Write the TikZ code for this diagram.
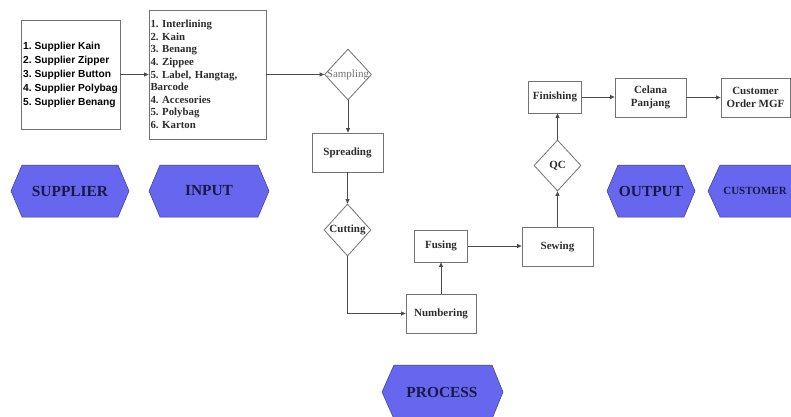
\documentclass[tikz,border=0pt]{standalone}
\usepackage{fontspec}
\setmainfont{Liberation Serif}
\newfontfamily\arialf{Liberation Sans}
\usetikzlibrary{arrows.meta,shapes.geometric}
\frenchspacing
\definecolor{hexblue}{RGB}{102,102,238}
\definecolor{hexline}{RGB}{60,60,150}
\definecolor{hextext}{RGB}{25,25,70}
\definecolor{lnc}{RGB}{75,75,75}
\definecolor{boxc}{RGB}{115,115,115}
\definecolor{txtc}{RGB}{45,45,45}
\begin{document}
\begin{tikzpicture}[x=1pt,y=-1pt,
  box/.style={draw=boxc,line width=0.8pt,fill=white,inner sep=1pt,
    font=\bfseries\fontsize{11}{12.5}\selectfont,text=txtc,align=center},
  dia/.style={draw=boxc,line width=0.8pt,fill=white,diamond,inner sep=0pt},
  dlbl/.style={font=\bfseries\fontsize{11}{12.5}\selectfont,text=txtc,inner sep=0pt},
  hexa/.style={fill=hexblue,draw=hexline,line width=0.5pt},
  hextxt/.style={font=\bfseries\fontsize{15.4}{17}\selectfont,text=hextext,inner sep=0pt},
  conn/.style={draw=lnc,line width=0.8pt,-{Triangle[length=4.5pt,width=4pt]}}
]
\useasboundingbox (0,0) rectangle (791,416);
\clip (0,0) rectangle (791,416);
\fill[white] (0,0) rectangle (791,416);

% boxes
\node[box,minimum width=99pt,minimum height=109pt,inner sep=0.5pt,
  font=\arialf\bfseries\fontsize{10.2}{14}\selectfont,text=black,align=left]
  (supp) at (70.5,74.5) {1. Supplier Kain\\2. Supplier Zipper\\3. Supplier Button\\4. Supplier Polybag\\5. Supplier Benang};
\node[box,minimum width=117pt,minimum height=129pt,inner sep=1pt,align=left,text width=114pt,
  font=\bfseries\fontsize{10.8}{12.6}\selectfont]
  (inp) at (207.5,74.5) {1. Interlining\\2. Kain\\3. Benang\\4. Zippee\\5. Label, Hangtag,\\Barcode\\4. Accesories\\5. Polybag\\6. Karton};

\node[dia,minimum width=47pt,minimum height=51pt,
  label={[font=\fontsize{11}{12}\selectfont,text=gray!90!black,inner sep=0pt]center:Sampling}] (samp) at (348,74.5) {};
\node[box,minimum width=71pt,minimum height=39pt] (spread) at (347.5,152.5) {Spreading};
\node[dia,minimum width=47pt,minimum height=52pt,
  label={[dlbl]center:Cutting}] (cut) at (347.5,230) {};
\node[box,minimum width=70pt,minimum height=39pt] (numb) at (441,313.5) {Numbering};
\node[box,minimum width=53pt,minimum height=32pt] (fus) at (441,246) {Fusing};
\node[box,minimum width=71pt,minimum height=39pt] (sew) at (557.5,246.5) {Sewing};
\node[dia,minimum width=47pt,minimum height=51pt,
  label={[dlbl]center:QC}] (qc) at (557.5,165.5) {};
\node[box,minimum width=53pt,minimum height=32pt] (fin) at (555,97) {Finishing};
\node[box,minimum width=71pt,minimum height=39pt] (cel) at (650.5,97.5) {Celana\\Panjang};
\node[box,minimum width=69pt,minimum height=39pt] (cust) at (755.5,97.5) {Customer\\Order MGF};

% connectors
\draw[conn] (supp.east) -- (inp.west |- supp.east);
\draw[conn] (inp.east |- samp.west) -- (samp.west);
\draw[conn] (samp.south) -- (spread.north -| samp.south);
\draw[conn] (spread.south -| cut.north) -- (cut.north);
\draw[conn] (cut.south) |- (numb.west);
\draw[conn] (numb.north -| fus.south) -- (fus.south);
\draw[conn] (fus.east) -- (sew.west |- fus.east);
\draw[conn] (sew.north -| qc.south) -- (qc.south);
\draw[conn] (qc.north) -- (qc.north |- fin.south);
\draw[conn] (fin.east) -- (cel.west |- fin.east);
\draw[conn] (cel.east) -- (cust.west);

% hexagon labels
\draw[hexa] (11,191) -- (22,165) -- (118,165) -- (129,191) -- (118,217) -- (22,217) -- cycle;
\node[hextxt] (lsupp) at (70,191) {SUPPLIER};
\draw[hexa] (149,191) -- (160,165) -- (258,165) -- (269,191) -- (258,217) -- (160,217) -- cycle;
\node[hextxt] (linp) at (209,191) {INPUT};
\draw[hexa] (382,392) -- (394,365) -- (492,365) -- (503,392) -- (492,419) -- (394,419) -- cycle;
\node[hextxt] (lproc) at (442,392) {PROCESS};
\draw[hexa] (607,191) -- (618,165) -- (684,165) -- (695,191) -- (684,217) -- (618,217) -- cycle;
\node[hextxt] (lout) at (651,191) {OUTPUT};
\draw[hexa] (708,191) -- (720,165) -- (800,165) -- (812,191) -- (800,217) -- (720,217) -- cycle;
\node[hextxt,font=\bfseries\fontsize{11}{12}\selectfont] (lcust) at (755,191) {CUSTOMER};
\end{tikzpicture}
\end{document}
